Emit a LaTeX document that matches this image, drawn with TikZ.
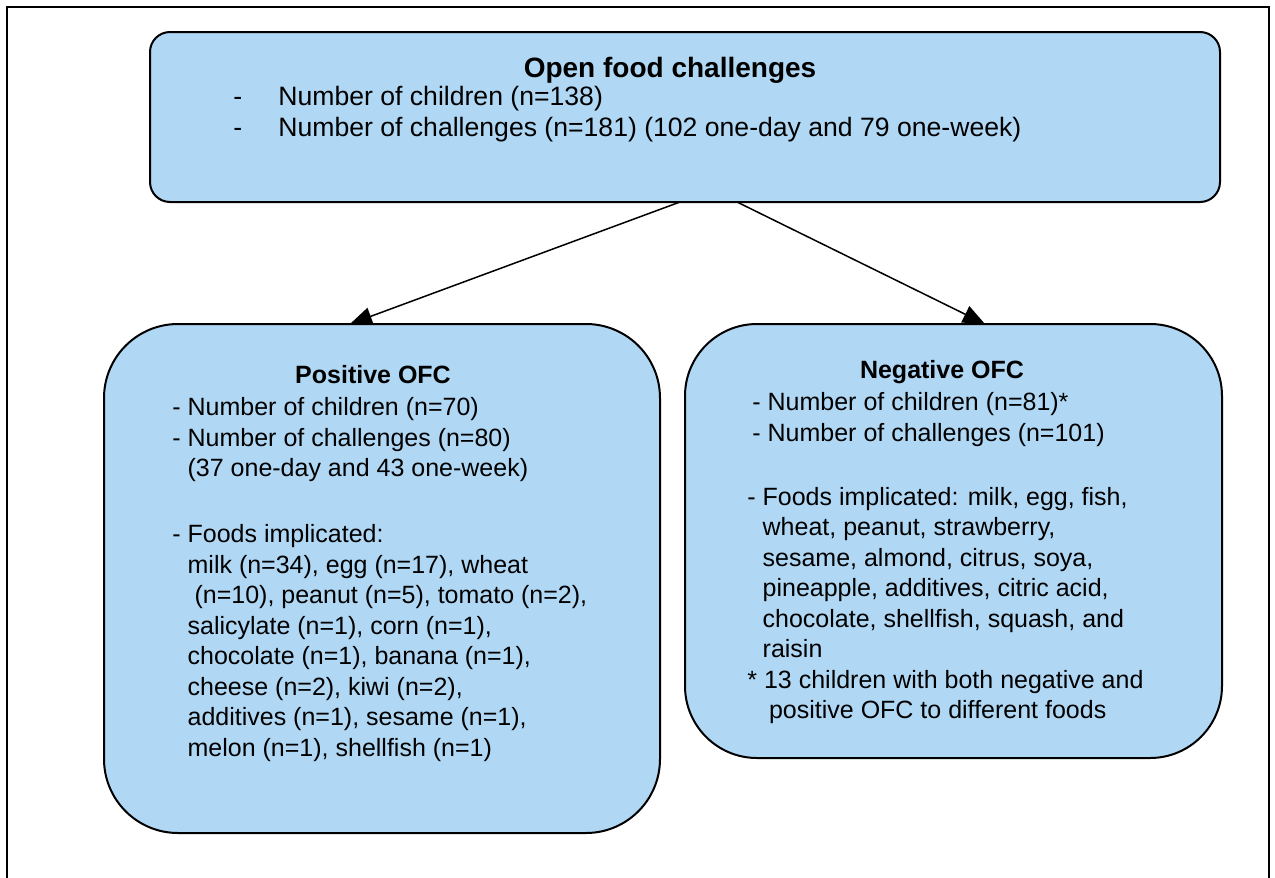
\documentclass[tikz,border=0pt]{standalone}
\usepackage{fontspec}
\setmainfont{Liberation Sans}
\usetikzlibrary{arrows.meta}
\definecolor{boxblue}{RGB}{176,216,245}
\begin{document}
\begin{tikzpicture}[x=0.5pt,y=-0.5pt,
 box/.style={draw=black, fill=boxblue, line width=1pt, inner sep=0pt},
 txt/.style={font=\fontsize{12.5pt}{15.25pt}\selectfont, align=left, inner sep=0pt, anchor=north west},
 ttl/.style={font=\fontsize{12.5pt}{15.25pt}\selectfont\bfseries, inner sep=0pt},
 conn/.style={line width=0.75pt, -{Triangle[length=11pt,width=9pt]}}]
\useasboundingbox (0,0) rectangle (1275,878);
\draw[line width=1pt] (7,878) -- (7,7) -- (1269,7) -- (1269,878);
% boxes
\node[box, minimum width=535pt, minimum height=85pt, rounded corners=10pt] (top) at (685,117) {};
\node[box, minimum width=278pt, minimum height=254.5pt, rounded corners=37pt] (pos) at (382,578.5) {};
\node[box, minimum width=268.5pt, minimum height=217pt, rounded corners=36pt] (neg) at (953.5,541) {};
% top text
\node[ttl, font=\fontsize{14pt}{16pt}\selectfont\bfseries] (toptitle) at (670,70) {Open food challenges};
\node[txt, font=\fontsize{13.3pt}{15.5pt}\selectfont] (toptext) at (233,86) {\makebox[22.5pt][l]{-}Number of children (n=138)\\
\makebox[22.5pt][l]{-}Number of challenges (n=181) (102 one-day and 79 one-week)};
% positive
\node[ttl] (postitle) at (373,375) {Positive OFC};
\node[txt] (postext) at (172,397) {- Number of children (n=70)\\
- Number of challenges (n=80)\\
\phantom{- }(37 one-day and 43 one-week)\\[17.75pt]
- Foods implicated:\\
\phantom{- }milk (n=34), egg (n=17), wheat\\
\phantom{- } (n=10), peanut (n=5), tomato (n=2),\\
\phantom{- }salicylate (n=1), corn (n=1),\\
\phantom{- }chocolate (n=1), banana (n=1),\\
\phantom{- }cheese (n=2), kiwi (n=2),\\
\phantom{- }additives (n=1), sesame (n=1),\\
\phantom{- }melon (n=1), shellfish (n=1)};
% negative
\node[ttl] (negtitle) at (942,372) {Negative OFC};
\node[txt] (negtext) at (747,392) {\hspace{2.5pt}- Number of children (n=81)*\\
\hspace{2.5pt}- Number of challenges (n=101)\\[16.75pt]
- Foods implicated: milk, egg, fish,\\
\phantom{- }wheat, peanut, strawberry,\\
\phantom{- }sesame, almond, citrus, soya,\\
\phantom{- }pineapple, additives, citric acid,\\
\phantom{- }chocolate, shellfish, squash, and\\
\phantom{- }raisin\\
* 13 children with both negative and\\
\phantom{* }\hspace{2.5pt}positive OFC to different foods};
% connectors
\coordinate (s1) at (680,202);
\coordinate (s2) at (737,202);
\coordinate (e1) at (350,324);
\coordinate (e2) at (985,324);
\draw[conn] (s1) -- (e1);
\draw[conn] (s2) -- (e2);
\end{tikzpicture}
\end{document}
